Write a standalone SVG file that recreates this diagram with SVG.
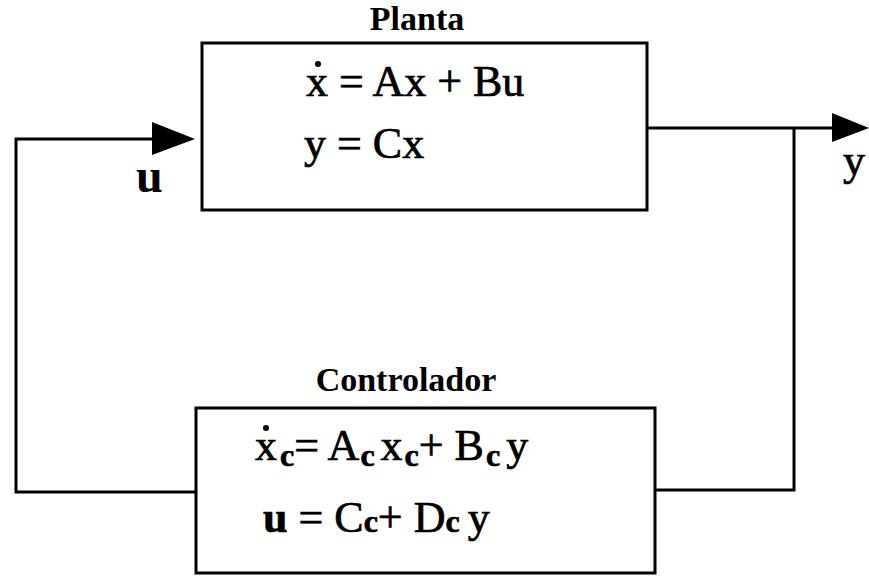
<svg xmlns="http://www.w3.org/2000/svg" width="869" height="580" viewBox="0 0 869 580">
<style>
.box{fill:#fff;stroke:#000;stroke-width:3}
.ln{fill:none;stroke:#000;stroke-width:3}
.ttl{font-family:"Liberation Serif",serif;font-weight:bold;font-size:34px;fill:#000}
.eq{font-family:"Liberation Serif",serif;font-size:44px;fill:#000;stroke:#000;stroke-width:0.7}
.sub{font-size:32px;font-weight:bold}
.lbl{font-family:"Liberation Serif",serif;font-weight:bold;font-size:48px;fill:#000}
</style>
<rect width="869" height="580" fill="#fff"/>
<g id="connectors">
<polyline class="ln" points="196,492 16,492 16,139 160,139"/>
<polygon points="152,122 195,139 152,155" fill="#000"/>
<polyline class="ln" points="647,128 835,128"/>
<polygon points="832,113 869,128 832,142" fill="#000"/>
<polyline class="ln" points="794,128 794,490 655,490"/>
<text class="lbl" x="136" y="192">u</text>
<text class="eq" x="843" y="175">y</text>
</g>
<g id="planta">
<rect class="box" x="202" y="43" width="445" height="167"/>
<text class="ttl" x="417" y="30" text-anchor="middle">Planta</text>
<text class="eq" x="306" y="96">x = Ax + Bu</text>
<circle cx="318" cy="64" r="3" fill="#000"/>
<text class="eq" x="304" y="158">y = Cx</text>
</g>
<g id="controlador">
<rect class="box" x="196" y="408" width="459" height="165"/>
<text class="ttl" x="406" y="391" text-anchor="middle">Controlador</text>
<text class="eq" x="255" y="460">x<tspan class="sub" dx="3" dy="6">c</tspan><tspan dy="-6">= A</tspan><tspan class="sub" dx="1" dy="6">c</tspan><tspan dx="6" dy="-6">x</tspan><tspan class="sub" dx="2" dy="6">c</tspan><tspan dy="-6">+ B</tspan><tspan class="sub" dx="2" dy="6">c</tspan><tspan dx="6" dy="-6">y</tspan></text>
<circle cx="266" cy="428" r="3" fill="#000"/>
<text class="eq" x="263" y="532"><tspan font-weight="bold">u</tspan> = C<tspan class="sub">c</tspan>+ D<tspan class="sub">c</tspan><tspan dx="8">y</tspan></text>
</g>
</svg>
